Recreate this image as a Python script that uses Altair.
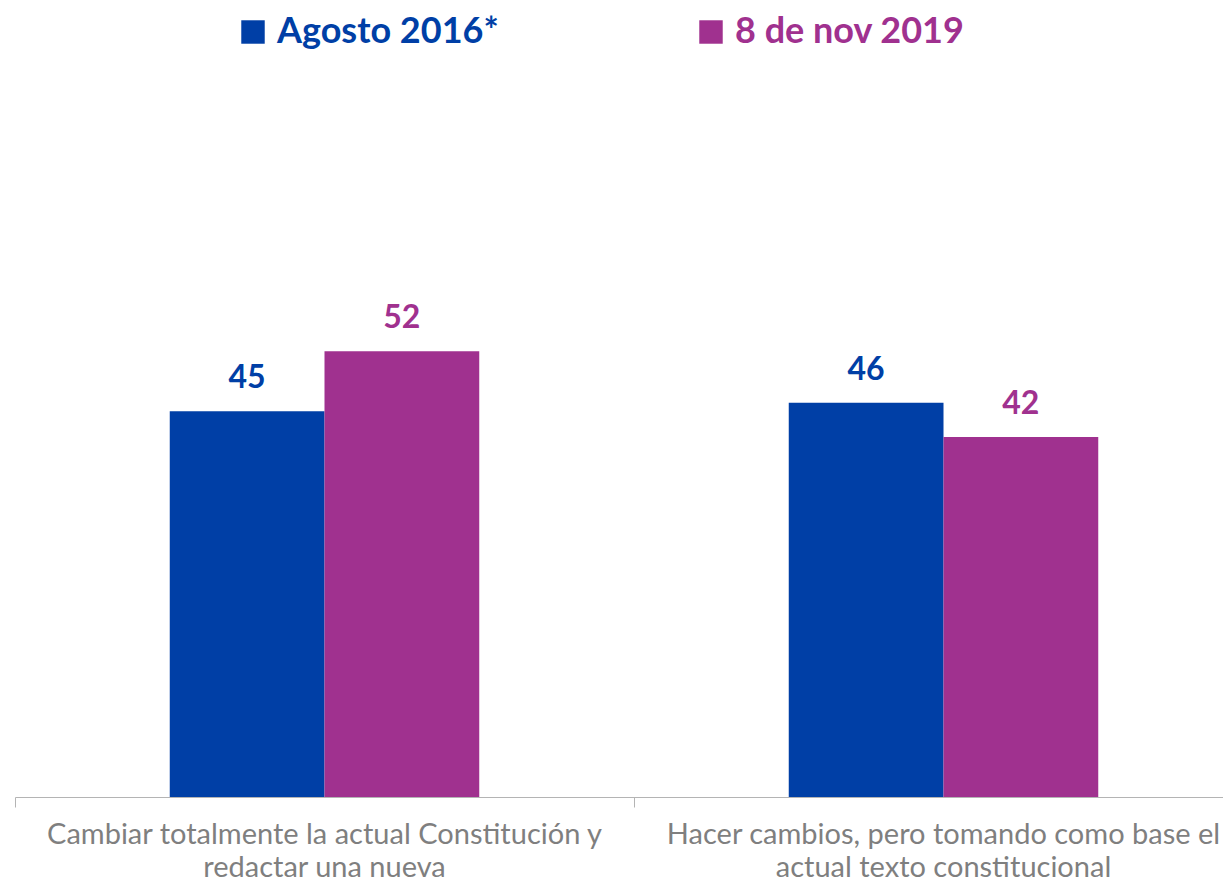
import altair as alt
import pandas as pd

categories = [
    "Cambiar totalmente la actual Constitución y redactar una nueva",
    "Hacer cambios, pero tomando como base el actual texto constitucional",
]
category_lines = [
    ["Cambiar totalmente la actual Constitución y", "redactar una nueva"],
    ["Hacer cambios, pero tomando como base el", "actual texto constitucional"],
]
series = ["Agosto 2016*", "8 de nov 2019"]
values_2016 = [45, 46]
values_2019 = [52, 42]
colors = ["#003FA6", "#A0318F"]

rows = []
for c, v1, v2 in zip(categories, values_2016, values_2019):
    rows.append({"cat": c, "serie": series[0], "valor": v1})
    rows.append({"cat": c, "serie": series[1], "valor": v2})
df = pd.DataFrame(rows)

label_expr = " : ".join(
    f"datum.value == '{c}' ? {lines!r}" for c, lines in zip(categories, category_lines)
) + " : datum.label"

legend_color_expr = f"datum.value == '{series[0]}' ? '{colors[0]}' : '{colors[1]}'"

color_scale = alt.Scale(domain=series, range=colors)

x_enc = alt.X(
    "cat:N",
    sort=categories,
    title=None,
    scale=alt.Scale(paddingInner=0, paddingOuter=0, range=[0, 1238]),
    axis=alt.Axis(
        labelExpr=label_expr,
        labelAngle=0,
        labelFont="Lato",
        labelFontSize=29,
        labelColor="#7F7F7F",
        labelLineHeight=33,
        labelPadding=13,
        labelLimit=1000,
        bandPosition=0,
        tickSize=10,
        tickColor="#B4B4B4",
        domainColor="#B4B4B4",
        grid=False,
    ),
)
xo_enc = alt.XOffset("serie:N", sort=series, scale=alt.Scale(paddingInner=0, paddingOuter=1))
y_enc = alt.Y("valor:Q", scale=alt.Scale(domain=[0, 86], nice=False), axis=None)

bars = alt.Chart(df).mark_bar().encode(
    x=x_enc,
    xOffset=xo_enc,
    y=y_enc,
    color=alt.Color(
        "serie:N",
        sort=series,
        scale=color_scale,
        title=None,
        legend=alt.Legend(
            orient="none",
            legendX=220,
            legendY=-46,
            direction="horizontal",
            symbolType="square",
            symbolSize=550,
            symbolStrokeWidth=0,
            labelFont="Lato",
            labelFontSize=36,
            labelFontWeight="bold",
            labelOffset=6,
            labelLimit=1000,
            columnPadding=194,
            labelColor=alt.ExprRef(legend_color_expr),
        ),
    ),
)

labels = alt.Chart(df).mark_text(
    baseline="bottom", dy=-16, font="Lato", fontSize=32, fontWeight="bold"
).encode(
    x=x_enc,
    xOffset=xo_enc,
    y=y_enc,
    text=alt.Text("valor:Q"),
    color=alt.Color("serie:N", sort=series, scale=color_scale, legend=None),
)

chart = (
    alt.layer(bars, labels)
    .properties(
        width=1208,
        height=737,
        autosize=alt.AutoSizeParams(type="none"),
        padding={"left": 7, "top": 52, "right": 0, "bottom": 87},
    )
    .configure_view(stroke=None)
)

chart.save("out.html", embed_options={"renderer": "svg", "actions": False})
